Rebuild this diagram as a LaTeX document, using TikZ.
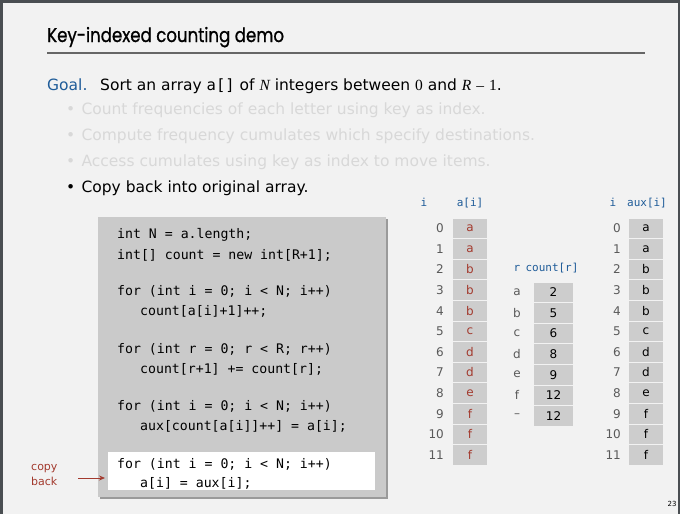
\documentclass[tikz,border=0pt]{standalone}
\usepackage{fontspec}
\usetikzlibrary{arrows.meta}
\setmainfont{DejaVu Sans}
\setmonofont{DejaVu Sans Mono}
\newfontfamily\titlefont[FakeStretch=0.84, FakeBold=0.9]{Poppins}
\newfontfamily\serifit{Liberation Serif}
\definecolor{frame}{HTML}{4A4E52}
\definecolor{paper}{HTML}{F2F2F2}
\definecolor{codebg}{HTML}{CACACA}
\definecolor{codeshadow}{HTML}{9A9A9A}
\definecolor{cellbg}{HTML}{CDCDCD}
\definecolor{keyblue}{HTML}{1F5C99}
\definecolor{keyred}{HTML}{A33A2E}
\definecolor{dimtext}{HTML}{D8D8D8}
\definecolor{idxgray}{HTML}{5A5A5A}
\tikzset{
  cell/.style={fill=cellbg, minimum width=34pt, minimum height=19.6pt, inner sep=0pt, font=\fontsize{12}{12}\selectfont},
  ccell/.style={fill=cellbg, minimum width=39pt, minimum height=19.6pt, inner sep=0pt, font=\fontsize{12}{12}\selectfont},
  idx/.style={text=idxgray, anchor=east, inner sep=0pt, font=\fontsize{12}{12}\selectfont},
  hdr/.style={text=keyblue, inner sep=0pt, anchor=base, font=\ttfamily\fontsize{11}{11}\selectfont},
  codeline/.style={anchor=base west, inner sep=0pt, font=\ttfamily\fontsize{13.2}{13.2}\selectfont},
  bodytext/.style={anchor=base west, inner sep=0pt, font=\fontsize{15.5}{15.5}\selectfont},
}
\begin{document}
\begin{tikzpicture}[x=1pt,y=-1pt]
\useasboundingbox (0,0) rectangle (680,514);
% slide frame and paper
\fill[frame] (0,0) rectangle (680,514);
\fill[paper] (3,3) rectangle (678,514);

% title and rule
\node[anchor=base west, inner sep=0pt, font=\titlefont\fontsize{19.8}{19.8}\selectfont] (title) at (47,42) {Key-indexed counting demo};
\draw[gray!80!black, line width=1.2pt] (47,53) -- (645,53);

% goal and bullets
\node[bodytext] (goal) at (47,90) {\textcolor{keyblue}{Goal.}\hspace{0.4em} Sort an array {\ttfamily a[]} of {\serifit\itshape N} integers between {\serifit 0} and {\serifit\itshape R} {\serifit –} {\serifit 1}.};
\node[bodytext, text=dimtext] (b1) at (66,114) {•\hspace{0.4em}Count frequencies of each letter using key as index.};
\node[bodytext, text=dimtext] (b2) at (66,140) {•\hspace{0.4em}Compute frequency cumulates which specify destinations.};
\node[bodytext, text=dimtext] (b3) at (66,166) {•\hspace{0.4em}Access cumulates using key as index to move items.};
\node[bodytext] (b4) at (66,192) {•\hspace{0.4em}Copy back into original array.};

% code box with drop shadow
\fill[codeshadow] (100,219) rectangle (388,499);
\fill[codebg] (98,217) rectangle (386,497);
\node[fill=white, minimum width=267pt, minimum height=38pt, inner sep=0pt, anchor=north west] (hl) at (108,452) {};

\node[codeline] (c1) at (117,238) {int N = a.length;};
\node[codeline] (c2) at (117,259) {int[] count = new int[R+1];};
\node[codeline] (c3) at (117,295) {for (int i = 0; i < N; i++)};
\node[codeline] (c4) at (140,315) {count[a[i]+1]++;};
\node[codeline] (c5) at (117,353) {for (int r = 0; r < R; r++)};
\node[codeline] (c6) at (140,373) {count[r+1] += count[r];};
\node[codeline] (c7) at (117,410) {for (int i = 0; i < N; i++)};
\node[codeline] (c8) at (140,430) {aux[count[a[i]]++] = a[i];};
\node[codeline] (c9) at (117,468) {for (int i = 0; i < N; i++)};
\node[codeline] (c10) at (140,487) {a[i] = aux[i];};

% copy back label and arrow
\node[anchor=base west, inner sep=0pt, text=keyred, align=left, font=\fontsize{11}{15}\selectfont] (cb) at (31,485) {copy\\back};
\coordinate (arrowfrom) at (78,478);
\draw[keyred, line width=0.8pt, -{Stealth[length=6pt,width=5pt]}, shorten >=3pt] (arrowfrom) -- (hl.west |- arrowfrom);

% array a[]
\node[hdr] (ahi) at (424,206) {i};
\node[hdr] (ahd) at (470,206) {a[i]};
\foreach \k/\v in {0/a,1/a,2/b,3/b,4/b,5/c,6/d,7/d,8/e,9/f,10/f,11/f} {
  \node[cell, text=keyred] (a\k) at (470,{228.3+20.6*\k}) {\v};
  \node[idx] (ai\k) at (444,{228.3+20.6*\k}) {\k};
}

% array count[]
\node[hdr] (chr) at (517,271) {r};
\node[hdr] (chd) at (552,271) {count[r]};
\foreach \k/\r/\v in {0/a/2,1/b/5,2/c/6,3/d/8,4/e/9,5/f/12,6/–/12} {
  \node[ccell] (c\k) at (553.5,{292.3+20.6*\k}) {\v};
  \node[text=idxgray, inner sep=0pt, font=\fontsize{12}{12}\selectfont] (cr\k) at (517,{292.3+20.6*\k}) {\r};
}

% array aux[]
\node[hdr] (xhi) at (613,206) {i};
\node[hdr] (xhd) at (647,206) {aux[i]};
\foreach \k/\v in {0/a,1/a,2/b,3/b,4/b,5/c,6/d,7/d,8/e,9/f,10/f,11/f} {
  \node[cell] (x\k) at (646,{228.3+20.6*\k}) {\v};
  \node[idx] (xi\k) at (621,{228.3+20.6*\k}) {\k};
}

% page number
\node[inner sep=0pt, font=\fontsize{7}{7}\selectfont] (pg) at (672,504) {23};
\end{tikzpicture}
\end{document}
